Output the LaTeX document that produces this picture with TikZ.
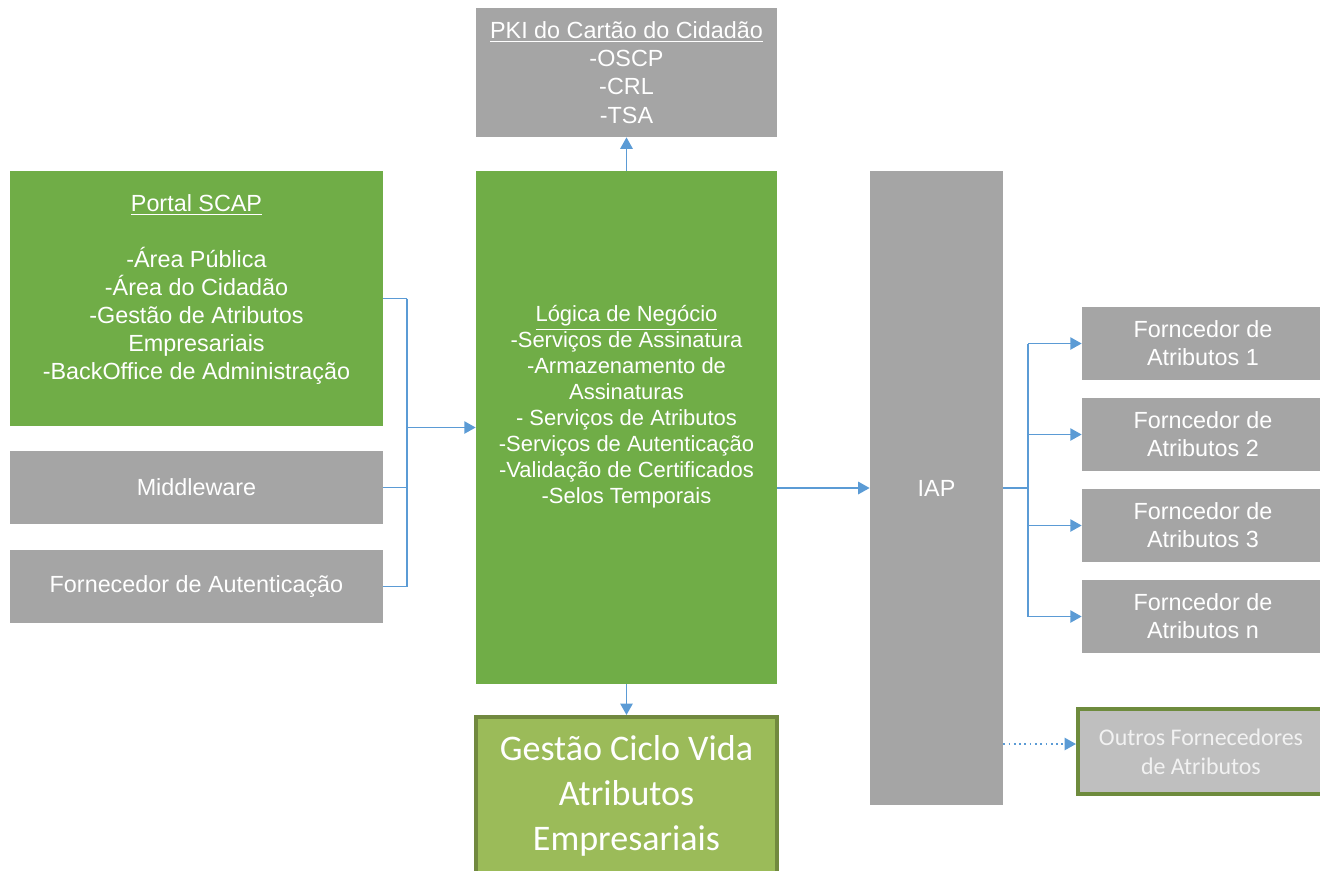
\documentclass[tikz,border=0pt]{standalone}
\usepackage{fontspec}
\setmainfont{Liberation Sans}
\newfontfamily\calibri{Carlito}
\usetikzlibrary{arrows.meta}

\definecolor{boxgreen}{HTML}{70AD47}
\definecolor{boxgray}{HTML}{A5A5A5}
\definecolor{lifegreen}{HTML}{9BBB59}
\definecolor{lifeedge}{HTML}{71893F}
\definecolor{othergray}{HTML}{BFBFBF}
\definecolor{otheredge}{HTML}{6E8B3D}
\definecolor{linkblue}{HTML}{5B9BD5}

\tikzset{
  block/.style={inner sep=0pt, text=white, align=center,
    font=\fontsize{13.3}{16}\selectfont},
  greenbox/.style={block, fill=boxgreen},
  graybox/.style={block, fill=boxgray},
  conn/.style={draw=linkblue, line width=1pt},
  arr/.style={conn, -{Triangle[length=6.5pt,width=7pt]}}
}

\begin{document}
\begin{tikzpicture}[x=0.02cm,y=-0.02cm]
        \useasboundingbox (0,0) rectangle (1320,870);
        \clip (0,0) rectangle (1320,870);
        % boxes
        \node[graybox,minimum width=6.02cm,minimum height=2.58cm] (pki) at (626.5,72.5)
          {\underline{PKI do Cartão do Cidadão}\\-OSCP\\-CRL\\-TSA};
        \node[greenbox,minimum width=7.46cm,minimum height=5.10cm] (portal) at (196.5,298.5)
          {\underline{Portal SCAP}\\[16pt]-Área Pública\\-Área do Cidadão\\-Gestão de Atributos\\Empresariais\\-BackOffice de Administração\\[-3pt]\mbox{}};
        \node[graybox,minimum width=7.46cm,minimum height=1.46cm] (middleware) at (196.5,487.5) {Middleware};
        \node[graybox,minimum width=7.46cm,minimum height=1.46cm] (autent) at (196.5,586.5) {Fornecedor de Autenticação};
        \node[greenbox,minimum width=6.02cm,minimum height=10.26cm,
          font=\fontsize{12.5}{14.8}\selectfont] (logica) at (626.5,427.5)
          {\underline{Lógica de Negócio}\\-Serviços de Assinatura\\-Armazenamento de\\Assinaturas\\- Serviços de Atributos\\-Serviços de Autenticação\\-Validação de Certificados\\-Selos Temporais\\[11pt]\mbox{}};
        \node[block,fill=lifegreen,draw=lifeedge,line width=2.3pt,
          minimum width=6.04cm,minimum height=3.16cm,
          font=\calibri\fontsize{20.5}{25.6}\selectfont] (gestao) at (626.5,796)
          {Gestão Ciclo Vida\\Atributos\\Empresariais};
        \node[graybox,minimum width=2.66cm,minimum height=12.68cm] (iap) at (936.5,488) {IAP};
        \foreach \k/\lbl/\yy in {1/1/343.5, 2/2/434.5, 3/3/525.5, 4/n/616.5}
          \node[graybox,minimum width=4.84cm,minimum height=1.46cm] (forn\k) at (1203,\yy)
            {Forncedor de\\Atributos \lbl};
        \node[block,fill=othergray,draw=otheredge,line width=2.3pt,text=white!95!black,
          minimum width=4.92cm,minimum height=1.70cm,
          font=\calibri\fontsize{13.6}{16.5}\selectfont] (outros) at (1201,751.5)
          {Outros Fornecedores\\de Atributos};
        % connectors
        \coordinate (lbus) at (407,0);
        \coordinate (rbus) at (1028,0);
        \coordinate (dotrow) at (0,744);
        \draw[conn] (portal.east) -- (portal.east -| lbus);
        \draw[conn] (middleware.east) -- (middleware.east -| lbus);
        \draw[conn] (autent.east) -- (autent.east -| lbus);
        \draw[conn] (portal.east -| lbus) -- (autent.east -| lbus);
        \draw[arr] (logica.west -| lbus) -- (logica.west);
        \draw[arr] (logica.north) -- (pki.south);
        \draw[arr] (logica.south) -- (gestao.north);
        \draw[arr] (iap.west -| logica.east) -- (iap.west);
        \draw[conn] (iap.east) -- (iap.east -| rbus);
        \draw[conn] (forn1.west -| rbus) -- (forn4.west -| rbus);
        \foreach \k in {1,...,4}
          \draw[arr] (forn\k.west -| rbus) -- (forn\k.west);
        \draw[arr,dotted] (iap.east |- dotrow) -- (outros.west |- dotrow);
\end{tikzpicture}
\end{document}
